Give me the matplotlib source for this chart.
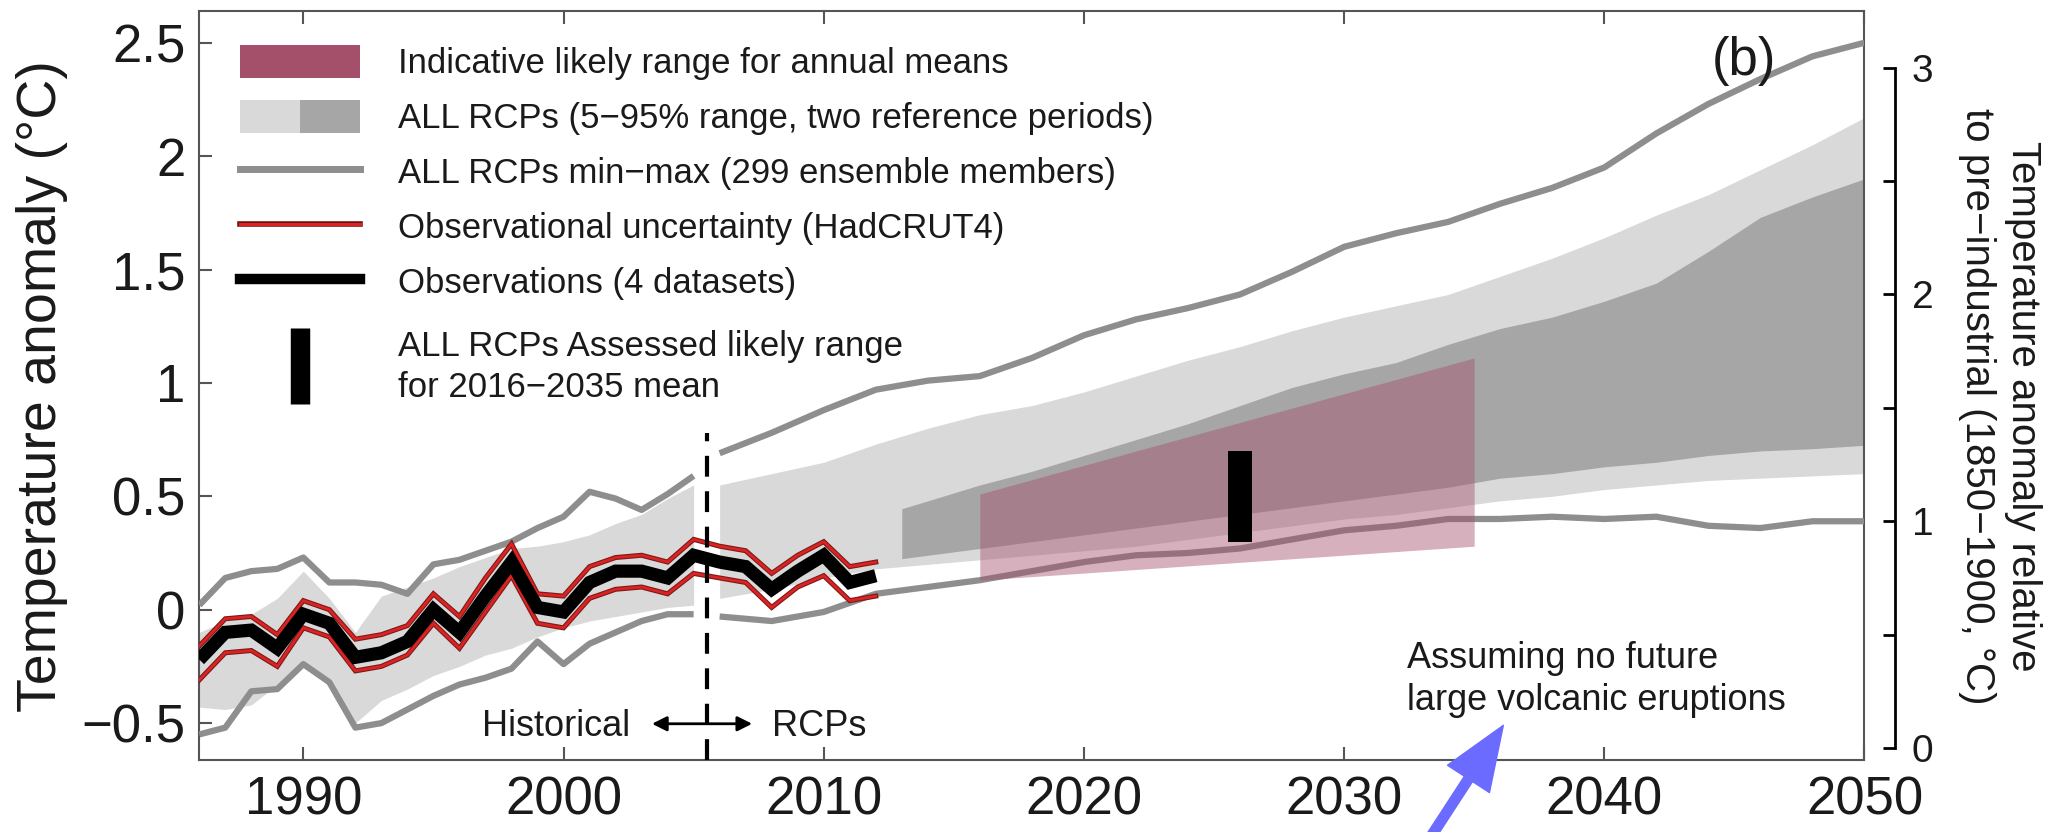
import matplotlib
matplotlib.use("Agg")
import matplotlib.pyplot as plt
from matplotlib.patches import Patch
from matplotlib.lines import Line2D
from matplotlib.legend_handler import HandlerTuple
import matplotlib.patheffects as pe

plt.rcParams['font.family'] = ['Liberation Sans', 'DejaVu Sans']
plt.rcParams['axes.unicode_minus'] = True

# ---------------- data ----------------
obs_years = [1986, 1987, 1988, 1989, 1990, 1991, 1992, 1993, 1994, 1995,
             1996, 1997, 1998, 1999, 2000, 2001, 2002, 2003, 2004, 2005,
             2006, 2007, 2008, 2009, 2010, 2011, 2012]
obs_mean = [-0.22, -0.10, -0.09, -0.17, -0.02, -0.06, -0.21, -0.19, -0.14, 0.00,
            -0.10, 0.06, 0.21, 0.01, -0.01, 0.12, 0.17, 0.17, 0.14, 0.24,
            0.21, 0.19, 0.09, 0.17, 0.24, 0.12, 0.15]
obs_unc_hi = [-0.16, -0.04, -0.03, -0.11, 0.04, 0.00, -0.13, -0.11, -0.07, 0.07,
              -0.03, 0.14, 0.29, 0.07, 0.06, 0.19, 0.23, 0.24, 0.21, 0.31,
              0.28, 0.26, 0.16, 0.24, 0.30, 0.19, 0.21]
obs_unc_lo = [-0.31, -0.19, -0.18, -0.25, -0.08, -0.12, -0.27, -0.25, -0.20, -0.06,
              -0.17, -0.01, 0.15, -0.06, -0.08, 0.05, 0.09, 0.10, 0.07, 0.16,
              0.14, 0.12, 0.01, 0.10, 0.15, 0.04, 0.06]

hist_years = [1986, 1987, 1988, 1989, 1990, 1991, 1992, 1993, 1994, 1995,
              1996, 1997, 1998, 1999, 2000, 2001, 2002, 2003, 2004, 2005]
hist_p95 = [-0.10, -0.05, -0.02, 0.05, 0.17, 0.05, -0.10, 0.06, 0.10, 0.14,
            0.19, 0.23, 0.27, 0.28, 0.30, 0.33, 0.38, 0.42, 0.49, 0.55]
hist_p05 = [-0.43, -0.44, -0.42, -0.33, -0.24, -0.32, -0.50, -0.40, -0.35, -0.29,
            -0.25, -0.20, -0.17, -0.12, -0.08, -0.05, -0.03, -0.01, 0.01, 0.02]
hist_max = [0.02, 0.14, 0.17, 0.18, 0.23, 0.12, 0.12, 0.11, 0.07, 0.20,
            0.22, 0.26, 0.30, 0.36, 0.41, 0.52, 0.49, 0.44, 0.51, 0.59]
hist_min = [-0.55, -0.52, -0.36, -0.35, -0.24, -0.32, -0.52, -0.50, -0.44, -0.38,
            -0.33, -0.30, -0.26, -0.14, -0.24, -0.15, -0.10, -0.05, -0.02, -0.02]

rcp_years = [2006, 2008, 2010, 2012, 2014, 2016, 2018, 2020, 2022, 2024, 2026, 2028,
             2030, 2032, 2034, 2036, 2038, 2040, 2042, 2044, 2046, 2048, 2050]
rcp_p95 = [0.55, 0.60, 0.65, 0.73, 0.80, 0.86, 0.90, 0.96, 1.03, 1.10, 1.16, 1.23,
           1.29, 1.34, 1.39, 1.47, 1.55, 1.64, 1.74, 1.83, 1.94, 2.05, 2.17]
rcp_p05 = [0.05, 0.09, 0.14, 0.18, 0.20, 0.22, 0.24, 0.26, 0.28, 0.31, 0.34, 0.37,
           0.40, 0.42, 0.45, 0.48, 0.50, 0.53, 0.55, 0.57, 0.58, 0.59, 0.60]
rcp_max = [0.69, 0.78, 0.88, 0.97, 1.01, 1.03, 1.11, 1.21, 1.28, 1.33, 1.39, 1.49,
           1.60, 1.66, 1.71, 1.79, 1.86, 1.95, 2.10, 2.23, 2.34, 2.44, 2.50]
rcp_min = [-0.03, -0.05, -0.01, 0.07, 0.10, 0.13, 0.17, 0.21, 0.24, 0.25, 0.27, 0.31,
           0.35, 0.37, 0.40, 0.40, 0.41, 0.40, 0.41, 0.37, 0.36, 0.39, 0.39]

rcp2_years = [2013, 2014, 2016, 2018, 2020, 2022, 2024, 2026, 2028, 2030,
              2032, 2034, 2036, 2038, 2040, 2042, 2044, 2046, 2048, 2050]
rcp2_p95 = [0.445, 0.48, 0.55, 0.61, 0.68, 0.75, 0.82, 0.90, 0.98, 1.04,
            1.09, 1.17, 1.24, 1.29, 1.36, 1.44, 1.58, 1.73, 1.82, 1.90]
rcp2_p05 = [0.225, 0.24, 0.27, 0.30, 0.33, 0.36, 0.39, 0.42, 0.45, 0.48,
            0.51, 0.54, 0.58, 0.60, 0.63, 0.65, 0.68, 0.70, 0.71, 0.725]

likely_years = [2016, 2035]
likely_lo = [0.13, 0.28]
likely_hi = [0.51, 1.11]

assessed_year = 2026
assessed_lo = 0.30
assessed_hi = 0.70

transition_year = 2005.5
transition_top = 0.78
preindustrial_offset = 0.61

x_ticks = [1990, 2000, 2010, 2020, 2030, 2040, 2050]
y_ticks = [-0.5, 0, 0.5, 1, 1.5, 2, 2.5]
y_tick_labels = ['\u22120.5', '0', '0.5', '1', '1.5', '2', '2.5']
right_ticks = [0, 1, 2, 3]
right_minor_ticks = [0.5, 1.5, 2.5]

legend_labels = [
    'Indicative likely range for annual means',
    'ALL RCPs (5\u221295% range, two reference periods)',
    'ALL RCPs min\u2212max (299 ensemble members)',
    'Observational uncertainty (HadCRUT4)',
    'Observations (4 datasets)',
]
legend_bar_label = 'ALL RCPs Assessed likely range\nfor 2016\u22122035 mean'

# ---------------- styles ----------------
C_LIGHT = '#d9d9d9'
C_DARK = '#a6a6a6'
C_MINMAX = '#8e8e8e'
C_PINK = '#a4506b'
C_RED = '#dd2222'
C_TEXT = '#1a1a1a'
C_SPINE = '#555555'

fig = plt.figure(figsize=(20.5, 8.32), dpi=100)
fig.patch.set_facecolor('white')
ax = fig.add_axes([0.0972, 0.0862, 0.8123, 0.9006])

XLIM = (1986, 2050)
YLIM = (-0.664, 2.64)

# bands
ax.fill_between(hist_years, hist_p05, hist_p95, color=C_LIGHT, lw=0, zorder=1)
ax.fill_between(rcp_years, rcp_p05, rcp_p95, color=C_LIGHT, lw=0, zorder=1)
ax.fill_between(rcp2_years, rcp2_p05, rcp2_p95, color=C_DARK, lw=0, zorder=2)

# min-max lines
for yrs, vals in [(hist_years, hist_max), (hist_years, hist_min),
                  (rcp_years, rcp_max), (rcp_years, rcp_min)]:
    ax.plot(yrs, vals, color=C_MINMAX, lw=4.5, solid_joinstyle='round',
            solid_capstyle='butt', zorder=3)

# indicative likely range (pink)
ax.fill_between(likely_years, likely_lo, likely_hi, color=C_PINK, alpha=0.45,
                lw=0, zorder=4)

# observational uncertainty
red_pe = [pe.Stroke(linewidth=3.6, foreground='#7a1a1a'), pe.Normal()]
for vals in (obs_unc_hi, obs_unc_lo):
    ax.plot(obs_years, vals, color=C_RED, lw=2.0, zorder=5,
            solid_joinstyle='miter', path_effects=red_pe)

# observations
ax.plot(obs_years, obs_mean, color='black', lw=9.5, solid_joinstyle='miter',
        solid_capstyle='butt', zorder=6)

# assessed likely range bar
ax.bar(assessed_year, assessed_hi - assessed_lo, bottom=assessed_lo, width=0.9,
       color='black', zorder=7)

# transition dashed line
ax.vlines(transition_year, YLIM[0], transition_top, colors='black', lw=3,
          linestyles=(0, (5, 3.5)), zorder=8)

# Historical <-> RCPs
ax.annotate('', xy=(2003.4, -0.503), xytext=(2007.25, -0.503),
            arrowprops=dict(arrowstyle='<|-|>', color='black', lw=2,
                            mutation_scale=22, shrinkA=0, shrinkB=0), zorder=9)
ax.text(2002.55, -0.557, 'Historical', ha='right', va='baseline', fontsize=26,
        color=C_TEXT)
ax.text(2008.0, -0.557, 'RCPs', ha='left', va='baseline', fontsize=26, color=C_TEXT)

# annotation
ax.text(2032.4, -0.14, 'Assuming no future\nlarge volcanic eruptions', ha='left',
        va='top', multialignment='left', fontsize=26, color=C_TEXT,
        linespacing=1.25)
ax.annotate('', xy=(2036.12, -0.51), xytext=(2033.0, -1.06),
            arrowprops=dict(width=7, headwidth=36, headlength=46,
                            color='#6b6bff', shrink=0),
            annotation_clip=False, zorder=10)

ax.text(2045.35, 2.42, '(b)', ha='center', va='center', fontsize=38, color=C_TEXT)

# axes cosmetics
ax.set_xlim(*XLIM)
ax.set_ylim(*YLIM)
ax.set_xticks(x_ticks)
ax.set_yticks(y_ticks)
ax.set_yticklabels(y_tick_labels)
ax.tick_params(axis='both', direction='in', length=9.5, width=1.5,
               top=True, right=True, labelsize=38, colors=C_SPINE,
               labelcolor=C_TEXT)
ax.tick_params(axis='x', pad=11)
ax.tick_params(axis='y', pad=10)
for s in ax.spines.values():
    s.set_color(C_SPINE)
    s.set_linewidth(1.5)

# right axis (pre-industrial reference)
ax2 = ax.twinx()
ax2.set_ylim(YLIM[0] + preindustrial_offset, YLIM[1] + preindustrial_offset)
for side in ('left', 'top', 'bottom'):
    ax2.spines[side].set_visible(False)
ax2.spines['right'].set_position(('outward', 22))
ax2.spines['right'].set_bounds(right_ticks[0], right_ticks[-1])
ax2.spines['right'].set_linewidth(2.0)
ax2.spines['right'].set_color('black')
ax2.set_yticks(right_ticks)
ax2.set_yticks(right_minor_ticks, minor=True)
ax2.tick_params(axis='y', which='both', direction='in', length=9, width=2,
                labelsize=28, pad=12, colors='black', labelcolor=C_TEXT)

# axis labels
fig.text(42 / 2050, 1 - 386 / 832, 'Temperature anomaly (\u00b0C)', rotation=90,
         ha='center', va='center', fontsize=40, color=C_TEXT)
fig.text(2000 / 2050, 1 - 406 / 832,
         'Temperature anomaly relative\nto pre\u2212industrial (1850\u22121900, \u00b0C)',
         rotation=270, ha='center', va='center', multialignment='center',
         fontsize=29, color=C_TEXT, linespacing=1.3)

# legend
h_pink = Patch(facecolor=C_PINK, edgecolor='none')
h_bands = (Patch(facecolor=C_LIGHT, edgecolor='none'),
           Patch(facecolor=C_DARK, edgecolor='none'))
h_minmax = Line2D([], [], color=C_MINMAX, lw=5)
h_red = Line2D([], [], color=C_RED, lw=2.2,
               path_effects=[pe.Stroke(linewidth=4.0, foreground='#6a1010'), pe.Normal()])
h_obs = Line2D([], [], color='black', lw=7.5)
h_bar = Line2D([], [], color='black', marker='|', markersize=55, mew=14,
               linestyle='none')
leg_kw = dict(loc='upper left', frameon=False, fontsize=25, borderpad=0,
              borderaxespad=0, handlelength=3.46, handleheight=1.07,
              handletextpad=1.1)
leg = ax.legend([h_pink, h_bands, h_minmax, h_red, h_obs], legend_labels,
                handler_map={tuple: HandlerTuple(ndivide=None, pad=0)},
                bbox_to_anchor=(0.0244, 0.9547), labelspacing=0.57, **leg_kw)
for t in leg.get_texts():
    t.set_color(C_TEXT)
leg.set_zorder(20)
ax.add_artist(leg)
leg2 = ax.legend([h_bar], [legend_bar_label], bbox_to_anchor=(0.0244, 0.574),
                 **leg_kw)
for t in leg2.get_texts():
    t.set_color(C_TEXT)
    t.set_linespacing(1.3)
leg2.set_zorder(20)

fig.savefig('out.png', dpi=100, facecolor='white')
